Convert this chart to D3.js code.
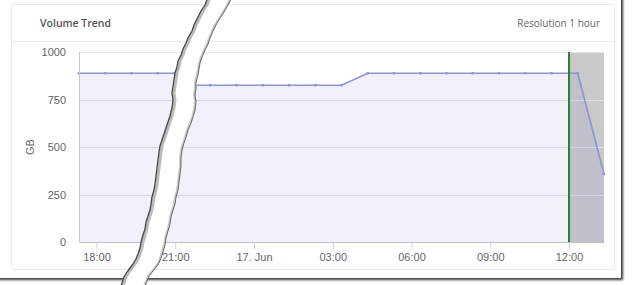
<!DOCTYPE html>
<html>
<head>
<meta charset="utf-8">
<script src="https://cdn.jsdelivr.net/npm/d3@7"></script>
<style>
  body { margin: 0; background: #fff; }
  svg { display: block; }
</style>
</head>
<body>
<script>
var width = 633
var height = 285

// samples, hours after 16 Jun 17:20 (the step is hidden under the tear)
var startTime = new Date(2019, 5, 16, 17, 20)
var sampleHours = [0, 1, 2, 3, 3.65, 4.3, 5, 6, 7, 8, 9, 10,
                   11, 12, 13, 14, 15, 16, 17, 18, 19, 20]
var volumeGB = [888, 888, 888, 888, 888, 825, 825, 825, 825, 825, 825, 825,
                888, 888, 888, 888, 888, 888, 888, 888, 888, 358]
var yTicks = [0, 250, 500, 750, 1000]
var nowTime = new Date(2019, 5, 17, 12, 0)
var title = 'Volume Trend'
var resolution = 'Resolution 1 hour'
var yTitle = 'GB'

var points = volumeGB.map(function(v, i) {
  return { t: new Date(+startTime + sampleHours[i] * 3600000), v: v }
})

var plot = { left: 79, right: 604, top: 52, bottom: 242 }

var svg = d3.select('body')
      .append('svg')
      .attr('width', width)
      .attr('height', height)
      .style('font-family', '"Liberation Sans", Arial, sans-serif')

var defs = svg.append('defs')
var sh = defs.append('filter').attr('id', 'shadow')
      .attr('x', '-5%').attr('y', '-5%').attr('width', '110%').attr('height', '110%')
sh.append('feDropShadow')
      .attr('dx', 2).attr('dy', 2).attr('stdDeviation', 1.2)
      .attr('flood-color', '#222').attr('flood-opacity', 0.9)
defs.append('filter').attr('id', 'soft')
      .append('feGaussianBlur').attr('stdDeviation', 0.7)

// outer screenshot frame
svg.append('rect')
      .attr('x', -6).attr('y', -6)
      .attr('width', 627).attr('height', 284)
      .attr('fill', '#fff')
      .attr('filter', 'url(#shadow)')

// card
svg.append('rect')
      .attr('x', 11.5).attr('y', 4.5)
      .attr('width', 603).attr('height', 265)
      .attr('rx', 2)
      .attr('fill', '#fff')
      .attr('stroke', '#e8e8e8')

svg.append('line')
      .attr('x1', 12).attr('x2', 614)
      .attr('y1', 41.5).attr('y2', 41.5)
      .attr('stroke', '#e8e8e8')

svg.append('text')
      .attr('x', 40).attr('y', 27)
      .attr('font-family', '"Open Sans", sans-serif')
      .attr('font-size', 10.5)
      .attr('font-weight', 600)
      .attr('fill', '#555')
      .text(title)

svg.append('text')
      .attr('x', 600).attr('y', 27)
      .attr('text-anchor', 'end')
      .attr('font-family', '"Open Sans", sans-serif')
      .attr('font-size', 10)
      .attr('fill', '#666')
      .text(resolution)

var x = d3.scaleTime()
      .domain(d3.extent(points, function(d) { return d.t }))
      .range([plot.left, plot.right])

var y = d3.scaleLinear()
      .domain([0, 1000])
      .range([plot.bottom, plot.top])

var g = svg.append('g')

// grey band after "now"
g.append('rect')
      .attr('x', x(nowTime))
      .attr('y', plot.top)
      .attr('width', plot.right - x(nowTime))
      .attr('height', plot.bottom - plot.top)
      .attr('fill', '#c9c9c9')

// grid
g.selectAll('.grid')
      .data(yTicks)
      .enter()
      .append('line')
      .attr('x1', plot.left).attr('x2', plot.right)
      .attr('y1', function(d) { return Math.round(y(d)) + 0.5 })
      .attr('y2', function(d) { return Math.round(y(d)) + 0.5 })
      .attr('stroke', '#e2e2e8')

var area = d3.area()
      .x(function(d) { return x(d.t) })
      .y0(y(0))
      .y1(function(d) { return y(d.v) })

var line = d3.line()
      .x(function(d) { return x(d.t) })
      .y(function(d) { return y(d.v) })

g.append('path')
      .datum(points)
      .attr('d', area)
      .attr('fill', 'rgba(105,115,215,0.1)')

g.append('path')
      .datum(points)
      .attr('d', line)
      .attr('fill', 'none')
      .attr('stroke', '#8e93d8')
      .attr('stroke-width', 1.6)

g.selectAll('.dot')
      .data(points)
      .enter()
      .append('circle')
      .attr('cx', function(d) { return x(d.t) })
      .attr('cy', function(d) { return y(d.v) })
      .attr('r', 1.4)
      .attr('fill', '#8e93d8')

// axes lines
g.append('line')
      .attr('x1', plot.left + 0.5).attr('x2', plot.left + 0.5)
      .attr('y1', plot.top).attr('y2', plot.bottom)
      .attr('stroke', '#c8c8cc')
g.append('line')
      .attr('x1', plot.left).attr('x2', plot.right)
      .attr('y1', plot.bottom + 0.5).attr('y2', plot.bottom + 0.5)
      .attr('stroke', '#c0c0c4')

// now marker
g.append('line')
      .attr('x1', x(nowTime)).attr('x2', x(nowTime))
      .attr('y1', plot.top).attr('y2', plot.bottom)
      .attr('stroke', '#2e7d32')
      .attr('stroke-width', 2)

var fmt = function(d) {
  return d.getHours() === 0 ? d3.timeFormat('%-d. %b')(d) : d3.timeFormat('%H:%M')(d)
}

var xAxis = svg.append('g')
      .attr('transform', 'translate(0,' + (plot.bottom + 1) + ')')
      .call(d3.axisBottom(x).ticks(d3.timeHour.every(3)).tickFormat(fmt).tickSize(6).tickPadding(4))
xAxis.select('.domain').remove()
xAxis.selectAll('line').attr('stroke', '#ccd6eb')
xAxis.selectAll('text')
      .attr('fill', '#666')
      .attr('font-size', 11)
      .attr('font-family', '"Liberation Sans", Arial, sans-serif')

var yAxis = svg.append('g')
      .attr('transform', 'translate(' + (plot.left - 13) + ',0)')
      .call(d3.axisLeft(y).tickValues(yTicks).tickFormat(d3.format('d')).tickSize(0).tickPadding(0))
yAxis.select('.domain').remove()
yAxis.selectAll('text')
      .attr('fill', '#666')
      .attr('font-size', 11)
      .attr('dy', '0.32em')
      .attr('font-family', '"Liberation Sans", Arial, sans-serif')

svg.append('text')
      .attr('transform', 'translate(34,' + ((plot.top + plot.bottom) / 2) + ') rotate(-90)')
      .attr('text-anchor', 'middle')
      .attr('fill', '#666')
      .attr('font-size', 11)
      .text(yTitle)

// torn paper strip
var leftEdge = [[208,-3],[205,5],[201,11],[198,17],[194,25],[192,31],[188,38],[186,43],[183,49],
  [181,55],[178,61],[177,67],[175,73],[174,80],[173,86],[172,93],[173,100],[172,108],[170,116],
  [168,122],[166,128],[164,134],[162,140],[160,146],[159,152],[158,160],[157,168],[156,176],
  [155,184],[154,190],[152,197],[151,204],[150,210],[148,216],[146,222],[145,229],[143,235],
  [141,242],[140,248],[138,254],[136,259],[133,264],[130,268],[127,272],[124,277],[121,286]]
var rightEdge = [[232,-3],[228,5],[224,12],[220,18],[216,25],[213,31],[210,38],[208,44],[205,50],
  [202,57],[200,63],[199,69],[198,75],[196,82],[196,88],[195,95],[196,102],[195,110],[193,117],
  [191,123],[188,130],[186,137],[184,143],[182,150],[181,158],[181,166],[180,174],[179,182],
  [178,190],[176,197],[175,204],[173,210],[171,217],[170,224],[168,231],[166,238],[165,245],
  [163,252],[161,258],[159,263],[156,267],[153,271],[149,276],[145,286]]

var edgeLine = d3.line()
var tearPoly = leftEdge.concat(rightEdge.slice().reverse())

svg.append('path')
      .attr('d', d3.line()(tearPoly) + 'Z')
      .attr('fill', '#fff')

svg.append('path')
      .attr('d', edgeLine(leftEdge.map(function(p) { return [p[0] + 2, p[1]] })))
      .attr('fill', 'none')
      .attr('stroke', '#bbb')
      .attr('stroke-width', 3)
      .attr('filter', 'url(#soft)')
svg.append('path')
      .attr('d', edgeLine(leftEdge))
      .attr('fill', 'none')
      .attr('stroke', '#444')
      .attr('stroke-width', 1.3)
svg.append('path')
      .attr('d', edgeLine(rightEdge.map(function(p) { return [p[0] - 1, p[1]] })))
      .attr('fill', 'none')
      .attr('stroke', '#ccc')
      .attr('stroke-width', 2)
      .attr('filter', 'url(#soft)')
svg.append('path')
      .attr('d', edgeLine(rightEdge))
      .attr('fill', 'none')
      .attr('stroke', '#666')
      .attr('stroke-width', 1)
</script>
</body>
</html>
